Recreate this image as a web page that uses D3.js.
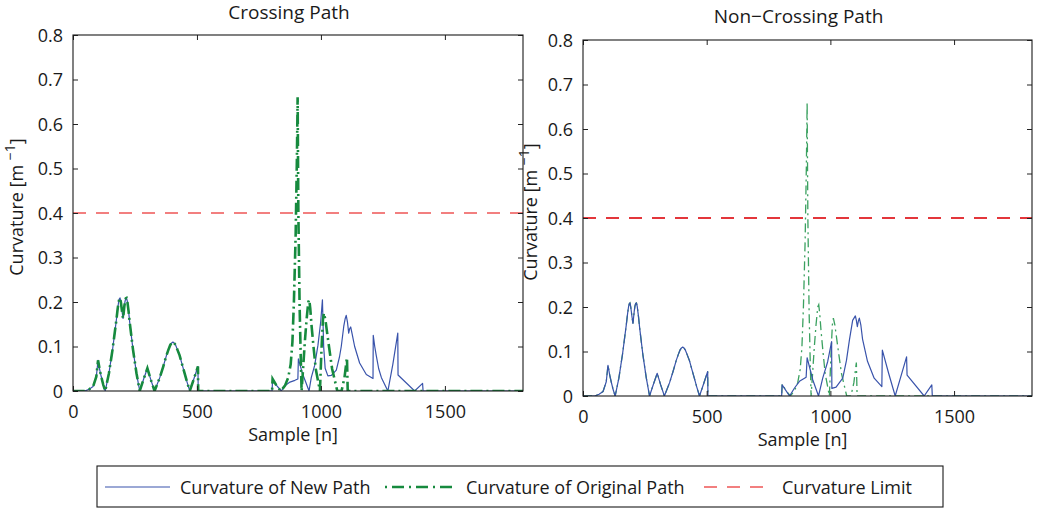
<!DOCTYPE html>
<html>
<head>
<meta charset="utf-8">
<script src="https://cdn.jsdelivr.net/npm/d3@7"></script>
<style>
  body { margin: 0; background: #fff; }
  svg text { font-family: "Open Sans", sans-serif; fill: #1a1a1a; }
</style>
</head>
<body>
<svg id="fig" width="1039" height="510"></svg>
<script>
// ---- data ----------------------------------------------------------------
const xTicks = [0, 500, 1000, 1500];
const yTicks = [0, 0.1, 0.2, 0.3, 0.4, 0.5, 0.6, 0.7, 0.8];
const sampleRange = [0, 1815];
const curvatureRange = [0, 0.8];
const curvatureLimit = 0.4;
const panelTitles = ["Crossing Path", "Non\u2212Crossing Path"];
const legendLabels = ["Curvature of New Path", "Curvature of Original Path", "Curvature Limit"];

// [sample, curvature] — first stretch is identical for every path
const commonStart = [
  [0, 0], [47, 0], [65, 0.004], [81, 0.01], [94, 0.032], [101, 0.069], [108, 0.047],
  [114, 0.032], [122, 0.014], [130, 0],
  [145, 0.04], [160, 0.095], [175, 0.16], [180, 0.184], [184, 0.2], [187, 0.207], [190, 0.209],
  [193, 0.2], [198, 0.178], [202, 0.163], [207, 0.19], [210, 0.202], [213, 0.208], [216, 0.209],
  [219, 0.202], [224, 0.18], [229, 0.153], [242, 0.093], [256, 0.04], [269, 0],
  [285, 0.027], [300, 0.051], [314, 0.025], [329, 0],
  [350, 0.03], [364, 0.055], [377, 0.08], [385, 0.093], [392, 0.103], [398, 0.108],
  [403, 0.11], [408, 0.108], [414, 0.103], [421, 0.093],
  [430, 0.08], [440, 0.06], [450, 0.04], [460, 0.02], [471, 0],
  [488, 0.028], [504, 0.055], [505, 0]
];

const originalPath = commonStart.concat([
  [803, 0], [805, 0.027], [820, 0.013], [838, 0], [855, 0.012], [868, 0.03], [878, 0.06],
  [885, 0.11], [891, 0.2], [898, 0.35], [903, 0.52], [906, 0.66], [909, 0.4], [914, 0.19],
  [918, 0.09], [922, 0], [928, 0.05], [935, 0.11], [942, 0.16], [949, 0.2], [953, 0.205],
  [957, 0.185], [962, 0.148], [970, 0.1], [979, 0.05], [996, 0], [1002, 0.09], [1008, 0.16],
  [1012, 0.175], [1018, 0.16], [1030, 0.11], [1045, 0.05], [1066, 0], [1083, 0],
  [1095, 0.03], [1105, 0.075], [1108, 0], [1815, 0]
]);

const newPathCrossing = commonStart.concat([
  [803, 0], [805, 0.027], [820, 0.013], [840, 0], [855, 0.012], [875, 0.02], [895, 0.024],
  [907, 0.027], [909, 0.072], [925, 0.04], [940, 0.018], [952, 0], [961, 0.03], [975, 0.058],
  [988, 0.103], [999, 0.155], [1006, 0.205], [1011, 0.1], [1017, 0.051], [1028, 0.034],
  [1042, 0.035], [1062, 0.047], [1075, 0.077], [1082, 0.1], [1092, 0.145], [1098, 0.163],
  [1102, 0.17], [1107, 0.155], [1112, 0.13], [1116, 0.14], [1120, 0.144], [1127, 0.125],
  [1136, 0.1], [1156, 0.063], [1183, 0.037], [1210, 0.028], [1211, 0.125], [1217, 0.1],
  [1223, 0.08], [1233, 0.05], [1244, 0.03], [1270, 0], [1290, 0.06], [1310, 0.13],
  [1311, 0.036], [1378, 0], [1410, 0.017], [1412, 0], [1815, 0]
]);

const newPathNonCrossing = commonStart.concat([
  [803, 0], [805, 0.025], [835, 0], [855, 0.018], [875, 0.033], [902, 0.042], [906, 0.086],
  [929, 0.036], [952, 0], [969, 0.04], [989, 0.077], [1005, 0.122], [1006, 0.017],
  [1023, 0.02], [1050, 0.04], [1065, 0.08], [1077, 0.126], [1090, 0.17], [1101, 0.18],
  [1105, 0.17], [1109, 0.156], [1113, 0.168], [1117, 0.175], [1123, 0.16], [1130, 0.128],
  [1150, 0.078], [1177, 0.04], [1208, 0.021], [1210, 0.103], [1236, 0.05], [1262, 0],
  [1308, 0.088], [1310, 0.047], [1379, 0], [1410, 0.025], [1412, 0], [1815, 0]
]);

// ---- layout & styles ------------------------------------------------------
const panels = [
  { title: panelTitles[0], newPath: newPathCrossing,
    box: { l: 73, r: 523, t: 35, b: 391 }, titleY: 19, ylabX: 23,
    green: { color: "#168a3e", width: 2.6, dash: "12,4,2,4" },
    red: { color: "#f27f7f", width: 1.8 }, order: ["red", "blue", "green"] },
  { title: panelTitles[1], newPath: newPathNonCrossing,
    box: { l: 583, r: 1032, t: 40, b: 396 }, titleY: 23, ylabX: 537,
    green: { color: "#3ba160", width: 1.3, dash: "9,4,2,4" },
    red: { color: "#e3363b", width: 1.8 }, order: ["red", "green", "blue"] }
];
const blueStyle = { color: "#3953ab", width: 1.2 };

const svg = d3.select("#fig");
const fmtY = d3.format(".1f");

panels.forEach((p, i) => {
  const { l, r, t, b } = p.box;
  const x = d3.scaleLinear().domain(sampleRange).range([l, r]);
  const y = d3.scaleLinear().domain(curvatureRange).range([b, t]);
  const g = svg.append("g");

  const clipId = "clip" + i;
  svg.append("clipPath").attr("id", clipId)
    .append("rect").attr("x", l).attr("y", t).attr("width", r - l).attr("height", b - t);

  const line = d3.line().x(d => x(d[0])).y(d => y(d[1])).curve(d3.curveLinear);
  const plot = g.append("g").attr("clip-path", `url(#${clipId})`);

  const drawers = {
    red: () => plot.append("line")
      .attr("x1", x(sampleRange[0])).attr("x2", x(sampleRange[1]))
      .attr("y1", y(curvatureLimit)).attr("y2", y(curvatureLimit))
      .attr("stroke", p.red.color).attr("stroke-width", p.red.width)
      .attr("stroke-dasharray", "13,10"),
    blue: () => plot.append("path").datum(p.newPath).attr("d", line)
      .attr("fill", "none").attr("stroke", blueStyle.color)
      .attr("stroke-width", blueStyle.width).attr("stroke-linejoin", "round"),
    green: () => plot.append("path").datum(originalPath).attr("d", line)
      .attr("fill", "none").attr("stroke", p.green.color)
      .attr("stroke-width", p.green.width).attr("stroke-dasharray", p.green.dash)
  };
  p.order.forEach(k => drawers[k]());

  // axes: ticks inward on all four sides
  const tickLen = 5;
  const axB = g.append("g").attr("transform", `translate(0,${b})`)
    .call(d3.axisBottom(x).tickValues(xTicks).tickSize(-tickLen).tickPadding(12).tickFormat(d3.format("d")));
  const axT = g.append("g").attr("transform", `translate(0,${t})`)
    .call(d3.axisTop(x).tickValues(xTicks).tickSize(-tickLen).tickFormat(""));
  const axL = g.append("g").attr("transform", `translate(${l},0)`)
    .call(d3.axisLeft(y).tickValues(yTicks).tickSize(-tickLen).tickPadding(10).tickFormat(d => d === 0 ? "0" : fmtY(d)));
  const axR = g.append("g").attr("transform", `translate(${r},0)`)
    .call(d3.axisRight(y).tickValues(yTicks).tickSize(-tickLen).tickFormat(""));
  [axB, axT, axL, axR].forEach(a => {
    a.select(".domain").remove();
    a.selectAll(".tick line").attr("stroke", "#222").attr("stroke-width", 1);
    a.selectAll("text").attr("font-size", 18).attr("fill", "#1a1a1a")
      .style("font-family", '"Open Sans", sans-serif');
  });
  axB.selectAll("text").attr("dy", null).attr("y", 26.5).attr("dominant-baseline", "auto");
  axL.selectAll("text").attr("dy", "0.35em");

  g.append("rect").attr("x", l).attr("y", t).attr("width", r - l).attr("height", b - t)
    .attr("fill", "none").attr("stroke", "#1a1a1a").attr("stroke-width", 1.1);

  // titles and labels
  g.append("text").attr("x", (l + r) / 2 - 9).attr("y", p.titleY)
    .attr("text-anchor", "middle").attr("font-size", 19).text(p.title);
  g.append("text").attr("x", (l + r) / 2 - 5).attr("y", b + 50)
    .attr("text-anchor", "middle").attr("font-size", 18).text("Sample [n]");
  const yl = g.append("text")
    .attr("transform", `translate(${p.ylabX},${(t + b) / 2 - 6}) rotate(-90)`)
    .attr("text-anchor", "middle").attr("font-size", 18);
  yl.append("tspan").text("Curvature [m ");
  yl.append("tspan").attr("dy", -8).attr("font-size", 14).text("\u22121");
  yl.append("tspan").attr("dy", 8).text("]");
});

// ---- legend ---------------------------------------------------------------
const lg = svg.append("g");
lg.append("rect").attr("x", 97).attr("y", 466).attr("width", 846).attr("height", 41)
  .attr("fill", "#fff").attr("stroke", "#1a1a1a").attr("stroke-width", 1.1);
const legendItems = [
  { label: legendLabels[0], x0: 105, x1: 170, tx: 180, color: blueStyle.color, width: 1.2, dash: null },
  { label: legendLabels[1], x0: 385, x1: 455, tx: 466, color: "#168a3e", width: 2.4, dash: "2,5,12,5" },
  { label: legendLabels[2], x0: 704, x1: 770, tx: 782, color: "#f27f7f", width: 1.8, dash: "13,10" }
];
legendItems.forEach(it => {
  lg.append("line").attr("x1", it.x0).attr("x2", it.x1).attr("y1", 487).attr("y2", 487)
    .attr("stroke", it.color).attr("stroke-width", it.width)
    .attr("stroke-dasharray", it.dash);
  lg.append("text").attr("x", it.tx).attr("y", 494).attr("font-size", 18).text(it.label);
});
</script>
</body>
</html>
